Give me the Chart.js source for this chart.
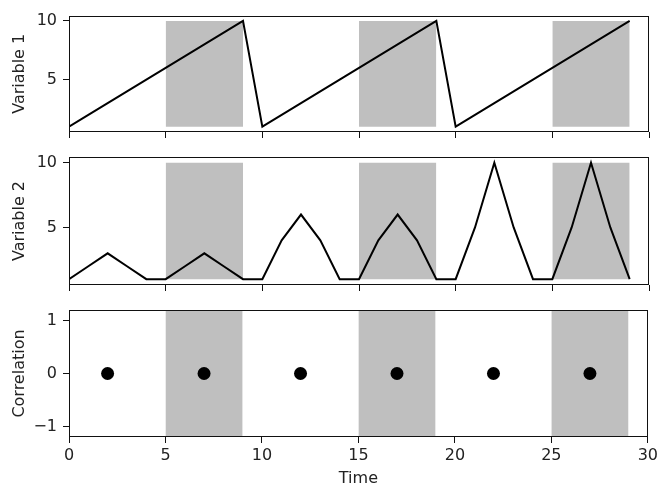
<html>
<head>
    <title>Variable 1, Variable 2, Correlation</title>
    <script src="https://cdn.jsdelivr.net/npm/chart.js"></script>
    <style>
        body { margin: 0; background: #fff; }
        canvas { position: absolute; left: 0; top: 0; }
    </style>
</head>
<body>
<canvas id="c1" width="661" height="493"></canvas>
<canvas id="c2" width="661" height="493"></canvas>
<canvas id="c3" width="661" height="493"></canvas>
<script>
    // data
    const time = [0, 1, 2, 3, 4, 5, 6, 7, 8, 9, 10, 11, 12, 13, 14, 15, 16, 17, 18, 19, 20, 21, 22, 23, 24, 25, 26, 27, 28, 29];
    const variable1 = [1, 2, 3, 4, 5, 6, 7, 8, 9, 10, 1, 2, 3, 4, 5, 6, 7, 8, 9, 10, 1, 2, 3, 4, 5, 6, 7, 8, 9, 10];
    const variable2 = [1, 2, 3, 2, 1, 1, 2, 3, 2, 1, 1, 4, 6, 4, 1, 1, 4, 6, 4, 1, 1, 5, 10, 5, 1, 1, 5, 10, 5, 1];
    const corrTime = [2, 7, 12, 17, 22, 27];
    const correlation = [0, 0, 0, 0, 0, 0];
    const shadeStart = [5, 15, 25];
    const shadeEnd = [9, 19, 29];
    const xTicks = [0, 5, 10, 15, 20, 25, 30];
    const var1Ticks = [5, 10];
    const var2Ticks = [5, 10];
    const corrTicks = [-1, 0, 1];

    Chart.defaults.font.family = 'DejaVu Sans';
    Chart.defaults.font.size = 16;
    Chart.defaults.color = '#222';

    const box_plugin = {
        id: 'box',
        afterDraw(chart) {
            const a = chart.chartArea;
            const ctx = chart.ctx;
            ctx.save();
            ctx.strokeStyle = '#111';
            ctx.lineWidth = 1;
            const l = Math.round(a.left) + 0.5, t = Math.round(a.top) + 0.5;
            const r = Math.round(a.right) - 0.5, b = Math.round(a.bottom) - 0.5;
            ctx.strokeRect(l, t, r - l, b - t);
            ctx.restore();
        }
    };

    function shade_sets(low, high) {
        let sets = [];
        for (let i = 0; i < shadeStart.length; i++) {
            sets.push({
                type: 'line',
                data: [{x: shadeStart[i], y: high}, {x: shadeEnd[i], y: high}],
                fill: {value: low},
                backgroundColor: '#bfbfbf',
                borderWidth: 0,
                pointRadius: 0
            });
        }
        return sets;
    }

    function make_chart(id, o) {
        const config = {
            type: 'line',
            data: {datasets: [o.main].concat(shade_sets(o.low, o.high))},
            options: {
                responsive: false,
                animation: false,
                layout: {padding: {top: o.top, right: 12, left: 0, bottom: 0}},
                plugins: {legend: {display: false}, tooltip: {enabled: false}},
                scales: {
                    x: {
                        type: 'linear',
                        min: 0,
                        max: 30,
                        afterBuildTicks: (s) => { s.ticks = xTicks.map(v => ({value: v})); },
                        afterFit: (s) => { s.height = 493 - o.bottom; },
                        border: {display: false},
                        grid: {drawOnChartArea: false, drawTicks: true, tickLength: 6, tickColor: '#111'},
                        ticks: {display: o.xLabels, padding: 3, maxRotation: 0, autoSkip: false},
                        title: {display: o.xLabels, text: 'Time', padding: {top: 0, bottom: 5}}
                    },
                    y: {
                        min: o.ymin,
                        max: o.ymax,
                        afterBuildTicks: (s) => { s.ticks = o.yTicks.map(v => ({value: v})); },
                        afterFit: (s) => { s.width = 69; },
                        border: {display: false},
                        grid: {drawOnChartArea: false, drawTicks: true, tickLength: 6, tickColor: '#111'},
                        ticks: {padding: 6, callback: (v) => v < 0 ? '\u2212' + Math.abs(v) : v},
                        title: {display: true, text: o.title, padding: {top: 10, bottom: 0}}
                    }
                }
            },
            plugins: [box_plugin]
        };
        return new Chart(document.getElementById(id), config);
    }

    make_chart('c1', {
        top: 5, bottom: 132, ymin: 0.55, ymax: 10.45, yTicks: var1Ticks, title: 'Variable 1',
        low: 1, high: 10, xLabels: false,
        main: {data: time.map((t, i) => ({x: t, y: variable1[i]})), borderColor: '#000', borderWidth: 2, pointRadius: 0, tension: 0, fill: false}
    });

    make_chart('c2', {
        top: 157, bottom: 285, ymin: 0.55, ymax: 10.45, yTicks: var2Ticks, title: 'Variable 2',
        low: 1, high: 10, xLabels: false,
        main: {data: time.map((t, i) => ({x: t, y: variable2[i]})), borderColor: '#000', borderWidth: 2, pointRadius: 0, tension: 0, fill: false}
    });

    make_chart('c3', {
        top: 310, bottom: 437, ymin: -1.2, ymax: 1.2, yTicks: corrTicks, title: 'Correlation',
        low: -1.2, high: 1.2, xLabels: true,
        main: {data: corrTime.map((t, i) => ({x: t, y: correlation[i]})), showLine: false, pointRadius: 6.5, pointBackgroundColor: '#000', pointBorderWidth: 0, fill: false}
    });
</script>
</body>
</html>
